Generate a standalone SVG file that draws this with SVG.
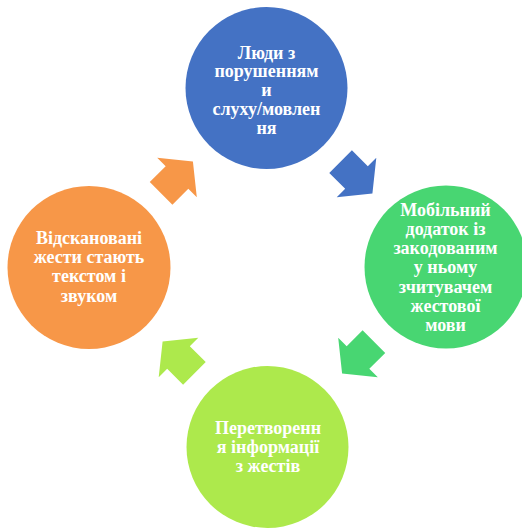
<svg xmlns="http://www.w3.org/2000/svg" xmlns:xlink="http://www.w3.org/1999/xlink" width="522" height="529" viewBox="0 0 522 529">
<style>
text{font-family:'Liberation Serif','DejaVu Serif',serif;font-weight:bold;font-size:18px;fill:#FFFFFF;text-anchor:middle}
</style>
<defs>
<path id="arr" d="M-22.5,-16 L0,-16 L0,-28 L22.5,0 L0,28 L0,16 L-22.5,16 Z"/>
</defs>
<rect width="522" height="529" fill="#FFFFFF"/>
<g id="connectors">
<use xlink:href="#arr" fill="#4472C4" transform="translate(356.5,177.5) rotate(45)"/>
<use xlink:href="#arr" fill="#48D672" transform="translate(358,357.5) rotate(135)"/>
<use xlink:href="#arr" fill="#ADE94C" transform="translate(178.5,357.5) rotate(225)"/>
<use xlink:href="#arr" fill="#F79748" transform="translate(177,177.5) rotate(315)"/>
</g>
<g id="node-top">
<circle cx="266.5" cy="88" r="81" fill="#4472C4"/>
<text x="266.5" y="58.5">Люди з</text>
<text x="266.5" y="77.3">порушенням</text>
<text x="266.5" y="96.1">и</text>
<text x="266.5" y="114.9">слуху/мовлен</text>
<text x="266.5" y="133.7">ня</text>
</g>
<g id="node-right">
<circle cx="446" cy="267" r="81.5" fill="#48D672"/>
<text x="445.5" y="215.7">Мобільний</text>
<text x="445.5" y="234.9">додаток із</text>
<text x="445.5" y="254.1">закодованим</text>
<text x="445.5" y="273.3">у ньому</text>
<text x="445.5" y="292.5">зчитувачем</text>
<text x="445.5" y="311.7">жестової</text>
<text x="445.5" y="330.9">мови</text>
</g>
<g id="node-bottom">
<circle cx="267.5" cy="447" r="81" fill="#ADE94C"/>
<text x="268" y="434">Перетворенн</text>
<text x="268" y="453">я інформації</text>
<text x="268" y="472">з жестів</text>
</g>
<g id="node-left">
<circle cx="89" cy="267.5" r="81.5" fill="#F79748"/>
<text x="89" y="244">Відскановані</text>
<text x="89" y="263.2">жести стають</text>
<text x="89" y="282.4">текстом і</text>
<text x="89" y="301.6">звуком</text>
</g>
</svg>
